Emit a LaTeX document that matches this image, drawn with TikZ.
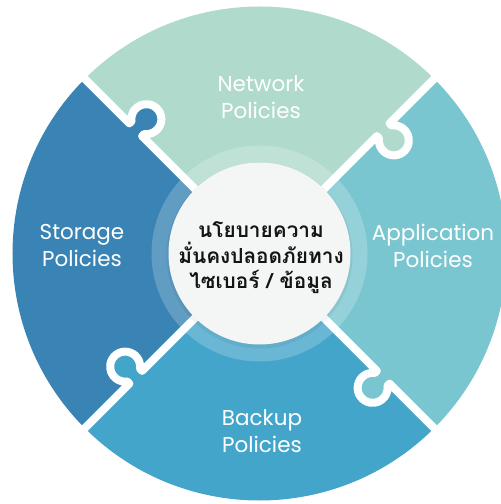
\documentclass[tikz,border=0pt]{standalone}
\usepackage{fontspec}
\setmainfont{Poppins}
\newfontfamily\thaifont[Script=Thai]{Loma}
\usetikzlibrary{calc}
\definecolor{netc}{RGB}{175,218,204}
\definecolor{appc}{RGB}{122,198,208}
\definecolor{bakc}{RGB}{68,165,203}
\definecolor{stoc}{RGB}{58,132,181}
\definecolor{discc}{RGB}{244,245,245}
\tikzset{
  gapline/.style={draw=white, line width=8pt, line join=round},
  lbl/.style={text=white, align=center, inner sep=0pt, font=\fontsize{21.5}{27}\selectfont},
  ctr/.style={text=black!92, align=center, inner sep=0pt, font=\thaifont\bfseries\fontsize{20.8}{25.5}\selectfont}
}
% knob: #1 gap angle, #2 owner colour
\newcommand\pzknob[2]{%
  \begin{scope}[shift={(259.5,250.5)},rotate=#1]
    \fill[#2] (166pt,1pt) -- (166pt,-3pt) arc[start angle=126.87, end angle=413.13, radius=15pt] -- (184pt,1pt) -- cycle;
  \end{scope}}
\newcommand\pzgap[1]{%
  \begin{scope}[shift={(259.5,250.5)},rotate=#1]
    \draw[gapline] (0pt,0pt) -- (166pt,0pt) -- (166pt,-3pt) arc[start angle=126.87, end angle=413.13, radius=15pt] -- (184pt,0pt) -- (262pt,0pt);
  \end{scope}}
\begin{document}
\begin{tikzpicture}[x=1pt,y=1pt]
\useasboundingbox (0,0) rectangle (501,504);
\clip (0,0) rectangle (501,504);
\coordinate (C) at (259.5,250.5);
% sectors
\fill[netc] (C) -- ++(45:247pt) arc[start angle=45, end angle=135, radius=247pt] -- cycle;
\fill[stoc] (C) -- ++(135:247pt) arc[start angle=135, end angle=225, radius=247pt] -- cycle;
\fill[bakc] (C) -- ++(225:247pt) arc[start angle=225, end angle=315, radius=247pt] -- cycle;
\fill[appc] (C) -- ++(-45:247pt) arc[start angle=-45, end angle=45, radius=247pt] -- cycle;
% knobs
\pzknob{135}{stoc}
\pzknob{45}{netc}
\pzknob{-45}{appc}
\pzknob{225}{bakc}
% gaps
\pzgap{135}
\pzgap{45}
\pzgap{-45}
\pzgap{225}
% ring and disc
\fill[white, opacity=0.2] (C) circle[radius=108pt];
\fill[black, opacity=0.05] ($(C)+(0,-2)$) circle[radius=93pt];
\fill[discc] (C) circle[radius=91pt];
% labels
\node[lbl] (net) at (261,407) {Network\\Policies};
\node[lbl] (sto) at (82,258) {Storage\\Policies};
\node[lbl] (app) at (433,258) {Application\\Policies};
\node[lbl] (bak) at (262,73) {Backup\\Policies};
\node[ctr] (mid) at (261,246) {นโยบายความ\\มั่นคงปลอดภัยทาง\\ไซเบอร์ / ข้อมูล};
\end{tikzpicture}
\end{document}
